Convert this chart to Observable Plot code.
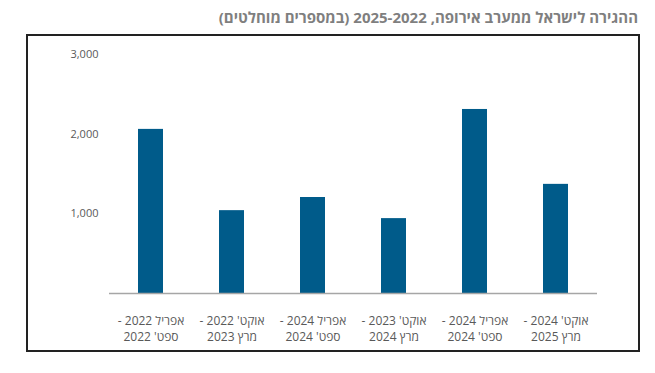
<!DOCTYPE html>
<html>
<head>
<meta charset="utf-8">
<script src="https://cdn.jsdelivr.net/npm/d3@7"></script>
<script src="https://cdn.jsdelivr.net/npm/@observablehq/plot@0.6"></script>
<style>
  html, body { margin: 0; padding: 0; background: #fff; }
  #wrap { position: relative; width: 655px; height: 373px; overflow: hidden; font-family: "Open Sans", sans-serif; }
  #title { position: absolute; right: 17px; top: 8px; direction: rtl; font-size: 15px; font-weight: bold; color: #7f7f7f; line-height: 18px; white-space: nowrap; }
  #box { position: absolute; left: 26px; top: 34px; width: 614px; height: 318px; border: 2px solid #222; box-sizing: border-box; }
  #box svg { display: block; }
</style>
</head>
<body>
<div id="wrap">
  <div id="title">ההגירה לישראל ממערב אירופה, 2025-2022 (במספרים מוחלטים)</div>
  <div id="box"></div>
</div>
<script>
const periodLabels = [
  "אפריל 2022 -\nספט' 2022",
  "אוקט' 2022 -\nמרץ 2023",
  "אפריל 2024 -\nספט' 2024",
  "אוקט' 2023 -\nמרץ 2024",
  "אפריל 2024 -\nספט' 2024",
  "אוקט' 2024 -\nמרץ 2025"
];
const immigrants = [2060, 1040, 1205, 940, 2310, 1370];
const yTicks = [1000, 2000, 3000];

const data = immigrants.map((v, i) => ({i, v}));

const chart = Plot.plot({
  width: 610,
  height: 313,
  marginLeft: 81,
  marginRight: 41,
  marginTop: 18,
  marginBottom: 56,
  style: {fontFamily: "Open Sans, sans-serif", fontSize: "11px", color: "#595959", background: "transparent"},
  x: {domain: d3.range(periodLabels.length), paddingInner: 0.69, paddingOuter: 0.34, label: null},
  y: {domain: [0, 3000], label: null},
  marks: [
    Plot.barY(data, {x: "i", y: "v", fill: "#005b8a"}),
    Plot.ruleY([0], {stroke: "#a6a6a6", strokeWidth: 1.5}),
    Plot.axisY(yTicks, {tickSize: 0, tickPadding: 11, tickFormat: d3.format(","), fill: "#595959"}),
    Plot.axisX({tickSize: 0, tickPadding: 20, tickFormat: i => periodLabels[i], fontSize: 12, lineHeight: 1.35, fill: "#595959"})
  ]
});
document.getElementById("box").appendChild(chart);
d3.select(chart).selectAll('[aria-label="x-axis tick label"]').attr("direction", "rtl");
</script>
</body>
</html>
